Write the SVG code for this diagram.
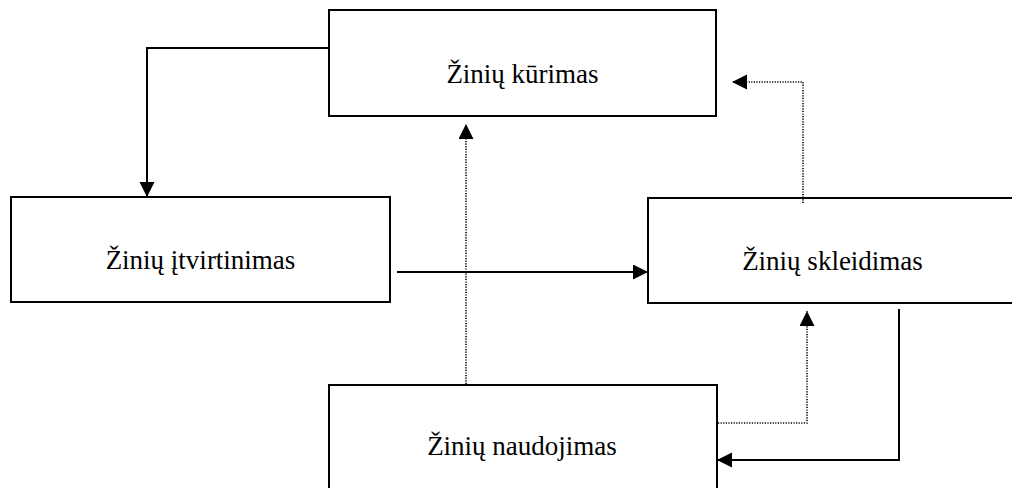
<svg xmlns="http://www.w3.org/2000/svg" width="1012" height="488" viewBox="0 0 1012 488">
<style>
.box{fill:#fff;stroke:#000;stroke-width:2}
.lbl{font-family:'Liberation Serif','Times New Roman',serif;font-size:27px;fill:#000;text-anchor:middle}
.solid{fill:none;stroke:#000;stroke-width:2}
.dot{fill:none;stroke:#000;stroke-width:1.6;stroke-dasharray:1.2 1.4}
</style>
<defs>
<marker id="ah" markerUnits="userSpaceOnUse" markerWidth="16" markerHeight="16" refX="15" refY="7.5" orient="auto" viewBox="0 0 16 16">
<path d="M0,0 L15,7.5 L0,15 z" fill="#000"/>
</marker>
</defs>
<rect width="1012" height="488" fill="#fff"/>
<g id="kurimas"><rect class="box" x="329" y="10" width="387" height="106"/><text class="lbl" x="522.5" y="83">Žinių kūrimas</text></g>
<g id="itvirtinimas"><rect class="box" x="11" y="197" width="379" height="105"/><text class="lbl" x="200.5" y="269">Žinių įtvirtinimas</text></g>
<g id="skleidimas"><rect class="box" x="648" y="198" width="370" height="105"/><text class="lbl" x="832.5" y="270">Žinių skleidimas</text></g>
<g id="naudojimas"><rect class="box" x="329" y="385" width="388" height="110"/><text class="lbl" x="522" y="455">Žinių naudojimas</text></g>
<g id="connectors">
<polyline class="solid" points="329,48 147,48 147,197" marker-end="url(#ah)"/>
<polyline class="solid" points="397,272 648,272" marker-end="url(#ah)"/>
<polyline class="dot" points="466,384 466,124" marker-end="url(#ah)"/>
<polyline class="dot" points="803,203 803,82 732,82" marker-end="url(#ah)"/>
<polyline class="dot" points="718,423 807,423 807,311" marker-end="url(#ah)"/>
<polyline class="solid" points="899,309 899,460 717,460" marker-end="url(#ah)"/>
</g>
</svg>
